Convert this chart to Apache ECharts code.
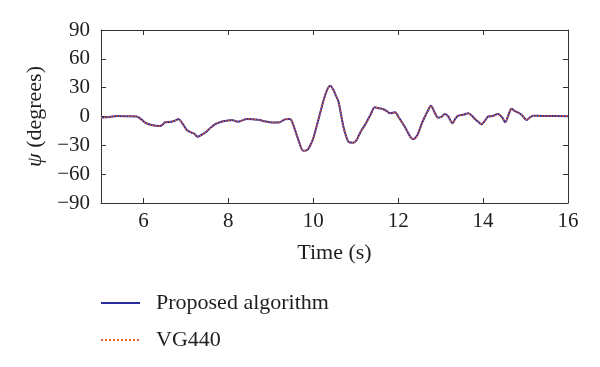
<!DOCTYPE html>
<html>
<head>
<meta charset="utf-8">
<script src="https://cdn.jsdelivr.net/npm/echarts@6/dist/echarts.min.js"></script>
<style>html,body{margin:0;padding:0;background:#fff}#c{width:600px;height:367px}</style>
</head>
<body>
<div id="c"></div>
<script>
var time = [5.00,5.2,5.37,5.6,5.84,5.95,6.04,6.19,6.39,6.45,6.51,6.66,6.76,6.82,6.9,7.02,7.14,7.2,7.27,7.35,7.45,7.55,7.68,7.84,7.95,8.08,8.23,8.33,8.43,8.6,8.74,8.85,8.98,9.1,9.21,9.33,9.45,9.53,9.65,9.76,9.82,9.88,9.95,10.0,10.08,10.16,10.25,10.33,10.4,10.47,10.53,10.59,10.65,10.71,10.77,10.83,10.94,11.02,11.08,11.14,11.2,11.26,11.35,11.45,11.55,11.65,11.73,11.81,11.93,12.0,12.08,12.16,12.24,12.3,12.36,12.42,12.47,12.55,12.63,12.7,12.77,12.85,12.94,13.02,13.1,13.18,13.28,13.35,13.41,13.55,13.65,13.73,13.81,13.9,13.96,14.05,14.12,14.22,14.35,14.45,14.52,14.6,14.67,14.75,14.83,14.91,15.03,15.1,15.18,15.4,15.7,16.0];
var proposed = [-1,-0.5,0.5,0.3,0,-3,-6.4,-8.9,-9.9,-8.5,-6,-5.4,-4,-2.6,-6,-14,-16.9,-18,-21,-19.5,-16.9,-13,-8.2,-5.4,-4.5,-3.6,-5.4,-4,-2.6,-3,-3.6,-5,-6,-6.3,-6,-3,-2.6,-8.9,-24.5,-35.6,-35.5,-33.9,-28,-22.7,-10,3.3,18,28,32,28,22,16,3,-10.6,-20,-26.2,-27.3,-24.5,-19,-14,-10,-5.4,2,9.5,8.5,7.5,5.5,3.3,4.3,0,-5.4,-11,-17.5,-22,-23.8,-21.5,-17.5,-8,0,6,11.3,5,-1.2,-0.5,2.6,0,-7.1,-2,0.8,2,3.3,1,-2.6,-6,-8.1,-4,0,0.5,2.6,-1,-6,2,8,5.5,4,1.6,-3.6,-1,0.8,0.5,0.5,0.3];
var vg440 = [-1,-0.5,0.5,0.3,0,-3,-6.4,-8.9,-9.9,-8.5,-6,-5.4,-4,-2.6,-6,-14,-16.9,-18,-21,-19.5,-16.9,-13,-8.2,-5.4,-4.5,-3.6,-5.4,-4,-2.6,-3,-3.6,-5,-6,-6.3,-6,-3,-2.6,-8.9,-24.5,-35.6,-35.5,-33.9,-28,-22.7,-10,3.3,18,28,32,28,22,16,3,-10.6,-20,-26.2,-27.3,-24.5,-19,-14,-10,-5.4,2,9.5,8.5,7.5,5.5,3.3,4.3,0,-5.4,-11,-17.5,-22,-23.8,-21.5,-17.5,-8,0,6,11.3,5,-1.2,-0.5,2.6,0,-7.1,-2,0.8,2,3.3,1,-2.6,-6,-8.1,-4,0,0.5,2.6,-1,-6,2,8,5.5,4,1.6,-3.6,-1,0.8,0.5,0.5,0.3];
var xTicks = [6,8,10,12,14,16];
var seriesNames = ['Proposed algorithm','VG440'];

var FONT = '"Liberation Serif", "DejaVu Serif", serif';
var axisCol = '#333';
var txtCol = '#1e1e1e';
function pairs(xs, ys){ return xs.map(function(x,i){ return [x, ys[i]]; }); }

var chart = echarts.init(document.getElementById('c'));
var xBase = {
  type:'value', min:5, max:16,
  axisLine:{show:true, onZero:false, lineStyle:{color:axisCol, width:1}},
  axisTick:{show:true, inside:true, length:5, customValues:xTicks, lineStyle:{color:axisCol}},
  splitLine:{show:false}
};
var yBase = {
  type:'value', min:-90, max:90, interval:30,
  axisLine:{show:true, onZero:false, lineStyle:{color:axisCol, width:1}},
  axisTick:{show:true, inside:true, length:5, lineStyle:{color:axisCol}},
  splitLine:{show:false}
};
chart.setOption({
  animation:false,
  backgroundColor:'#fff',
  grid:{left:101, right:32, top:30, bottom:164, containLabel:false},
  legend:{
    orient:'vertical', left:100, top:292, padding:0, itemWidth:39, itemHeight:14, itemGap:15,
    data:seriesNames,
    itemStyle:{opacity:0},
    textStyle:{fontFamily:FONT, fontSize:22, color:txtCol, padding:[0,0,0,11]}
  },
  xAxis:[
    Object.assign({}, xBase, {position:'bottom',
      name:'Time (s)', nameLocation:'middle', nameGap:39,
      nameTextStyle:{fontFamily:FONT, fontSize:22, color:txtCol},
      axisLabel:{show:true, customValues:xTicks, margin:8, fontFamily:FONT, fontSize:21, color:txtCol}}),
    Object.assign({}, xBase, {position:'top', axisLabel:{show:false}})
  ],
  yAxis:[
    Object.assign({}, yBase, {position:'left',
      name:'{i|ψ} (degrees)', nameLocation:'middle', nameGap:55,
      nameTextStyle:{fontFamily:FONT, fontSize:22, color:txtCol, rich:{i:{fontFamily:FONT, fontSize:22, fontStyle:'italic', color:txtCol}}},
      axisLabel:{show:true, margin:11, fontFamily:FONT, fontSize:21, color:txtCol,
        formatter:function(v){ return v<0 ? '\u2212'+Math.abs(v) : String(v); }}}),
    Object.assign({}, yBase, {position:'right', axisLabel:{show:false}})
  ],
  series:[
    {name:seriesNames[0], type:'line', xAxisIndex:0, yAxisIndex:0, data:pairs(time, proposed),
     smooth:0.3, symbol:'none', lineStyle:{color:'#2b2ba0', width:2}, itemStyle:{color:'#2b2ba0'}},
    {name:seriesNames[1], type:'line', xAxisIndex:0, yAxisIndex:0, data:pairs(time, vg440),
     smooth:0.3, symbol:'none', lineStyle:{color:'#e8602c', width:1.5, type:'dotted'}, itemStyle:{color:'#e8602c'}}
  ]
});
</script>
</body>
</html>
